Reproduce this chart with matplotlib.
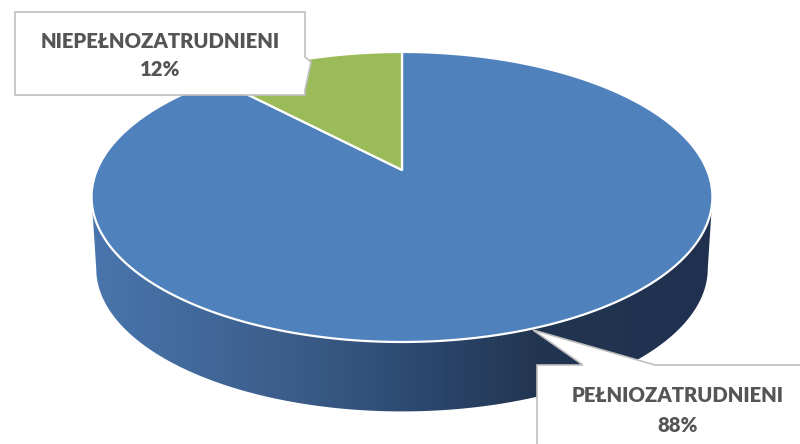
import numpy as np
import matplotlib.pyplot as plt
from matplotlib.patches import Polygon
from matplotlib.colors import LinearSegmentedColormap

# data
labels = ['PEŁNIOZATRUDNIENI', 'NIEPEŁNOZATRUDNIENI']
shares = [88, 12]
colors = ['#4f81bd', '#9bbb59']

# pie geometry in pixel space (perspective disc)
cx, cy = 402, 170
A, B, k = 305, 140, 0.186
depth = 72
text_col = '#555555'


def proj(t, drop=0.0, shrink=1.0):
    u, v = np.cos(t), np.sin(t)
    w = 1 + k * v
    return cx + A * shrink * u / w, cy - B * shrink * v / w + drop


fig = plt.figure(figsize=(8, 4.44), dpi=100)
ax = fig.add_axes([0, 0, 1, 1])
ax.set_xlim(0, 800)
ax.set_ylim(444, 0)
ax.axis('off')

# side of the disc (front half only)
t_side = np.linspace(np.pi + np.arcsin(k), 2 * np.pi - np.arcsin(k), 300)
xt, yt = proj(t_side)
xb, yb = proj(t_side[::-1], drop=depth, shrink=0.985)
side = Polygon(np.column_stack([np.r_[xt, xb], np.r_[yt, yb]]), closed=True,
               facecolor='none', edgecolor='none')
ax.add_patch(side)
side_cmap = LinearSegmentedColormap.from_list(
    'side', [(0.0, '#4976ad'), (0.33, '#3b5c89'), (0.53, '#2c4870'),
             (0.72, '#22354f'), (1.0, '#1f3150')])
grad = np.linspace(0, 1, 256).reshape(1, -1)
im = ax.imshow(grad, cmap=side_cmap, aspect='auto',
               extent=(xt.min() - 2, xt.max() + 2, 444, 150), zorder=1)
im.set_clip_path(side)

# top face, slices clockwise from 12 o'clock
start = np.pi / 2
for share, col in zip(shares, colors):
    span = 2 * np.pi * share / sum(shares)
    t = np.linspace(start, start - span, 400)
    x, y = proj(t)
    pts = np.column_stack([np.r_[cx, x], np.r_[cy, y]])
    ax.add_patch(Polygon(pts, closed=True, facecolor=col, edgecolor='white',
                         linewidth=1.6, joinstyle='round', zorder=2))
    start -= span

# label callouts
box_kw = dict(closed=True, facecolor='white', edgecolor='#bfbfbf',
              linewidth=1.2, zorder=3)
ax.add_patch(Polygon([(15, 12), (305, 12), (305, 57), (311, 62), (305, 90),
                      (305, 95), (15, 95)], **box_kw))
ax.add_patch(Polygon([(537, 450), (537, 365), (583, 365), (533, 330),
                      (655, 365), (810, 365), (810, 450)], **box_kw))

font = dict(family='Lato', fontweight='heavy', color=text_col, fontsize=14.6,
            ha='center', va='center', zorder=4)
ax.text(160, 41, labels[1], **font)
ax.text(160, 70, '%d%%' % shares[1], **font)
ax.text(678, 395, labels[0], **font)
ax.text(678, 425, '%d%%' % shares[0], **font)

fig.savefig('out.png', dpi=100)
